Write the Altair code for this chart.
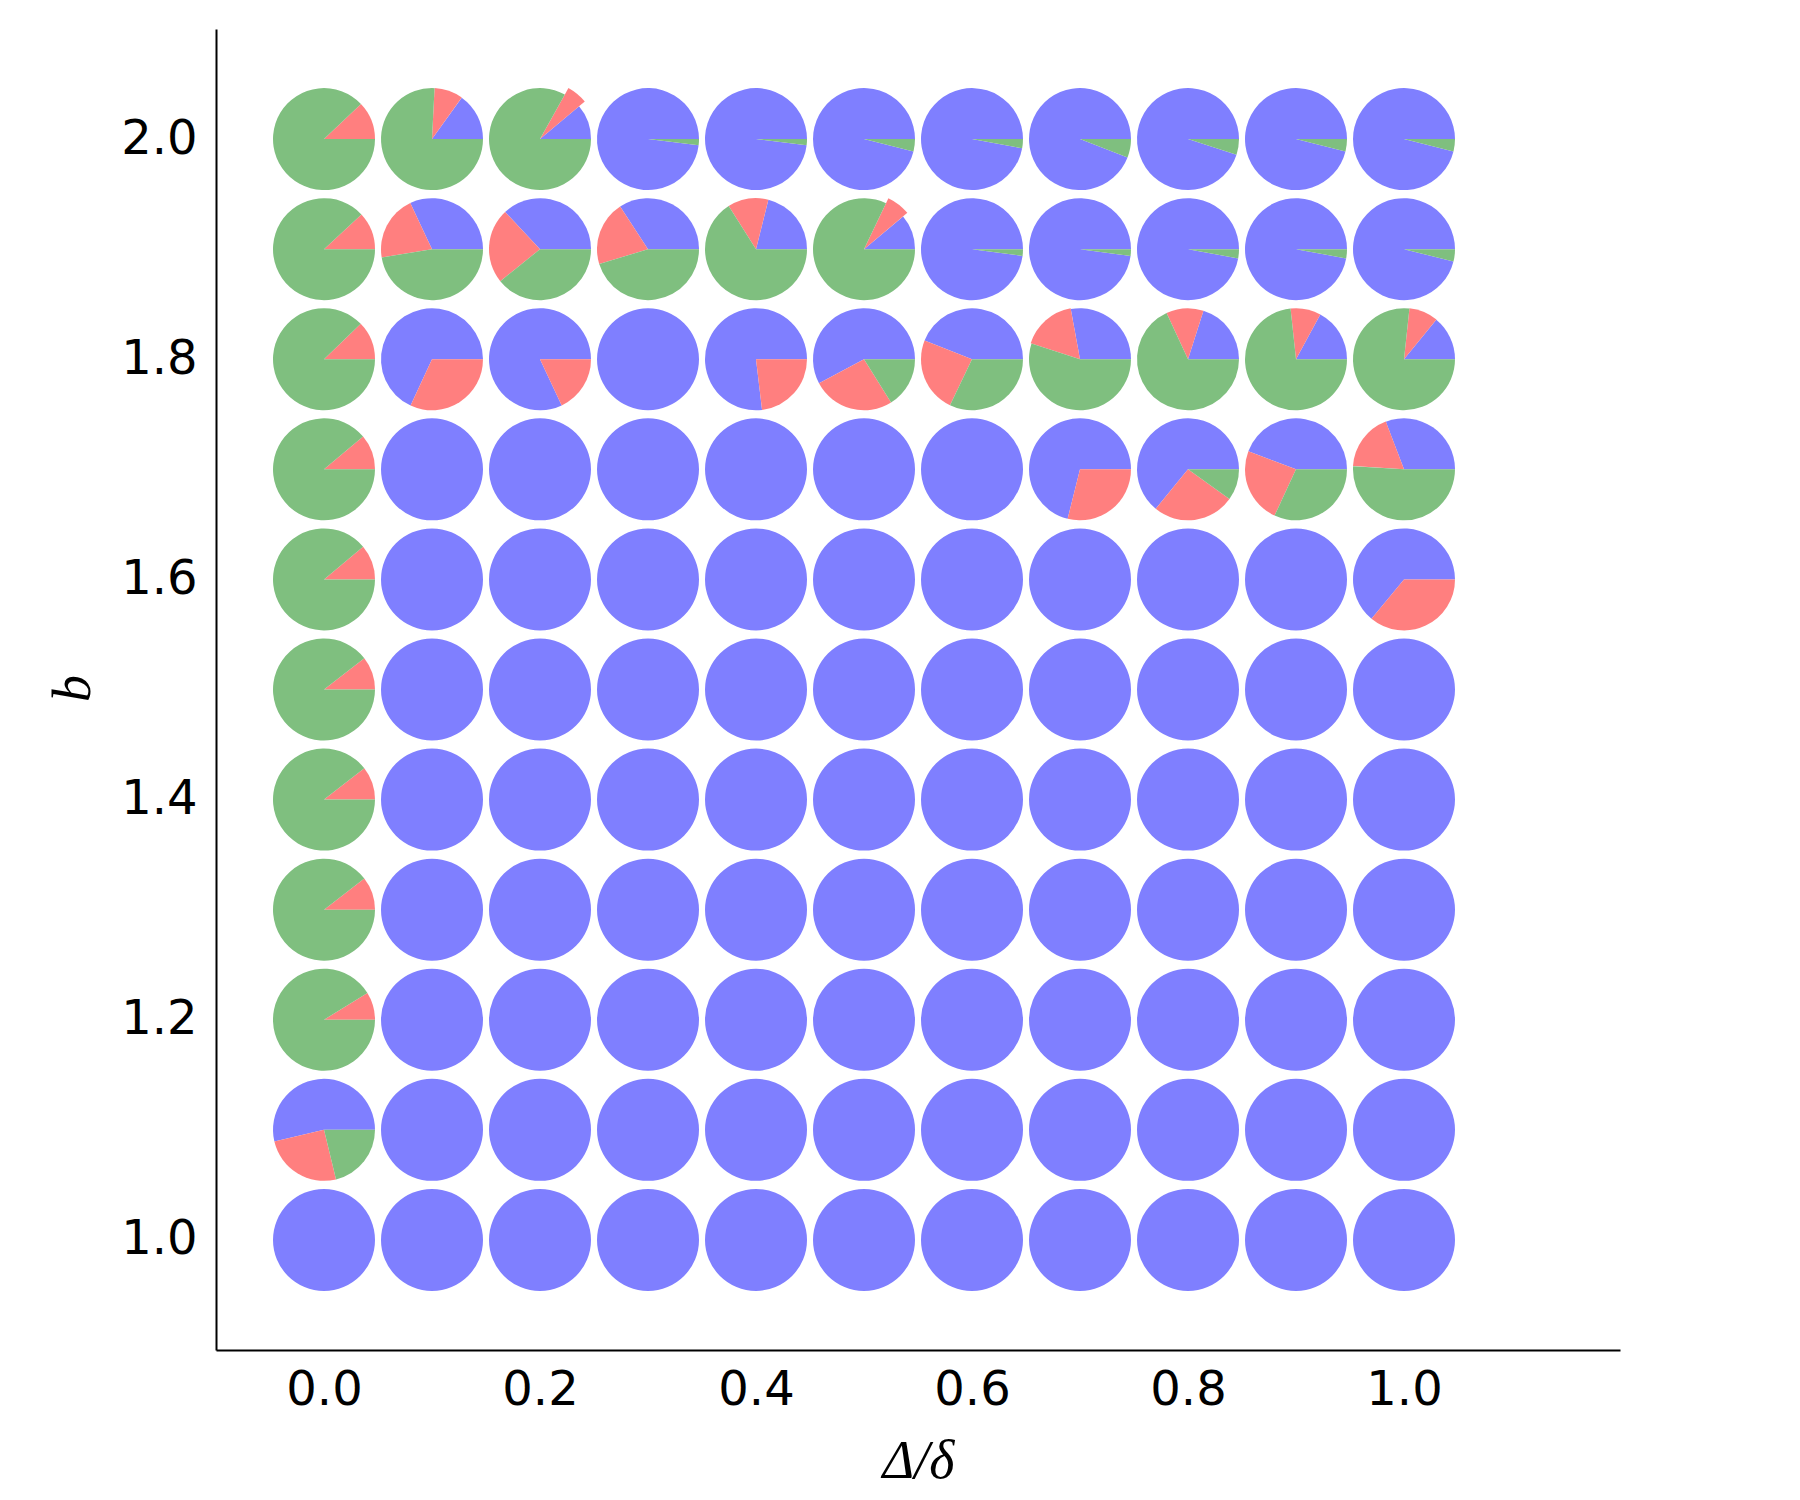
import altair as alt
import pandas as pd

# Grid coordinates
delta_ratio = [0.0, 0.1, 0.2, 0.3, 0.4, 0.5, 0.6, 0.7, 0.8, 0.9, 1.0]
b_values = [2.0, 1.9, 1.8, 1.7, 1.6, 1.5, 1.4, 1.3, 1.2, 1.1, 1.0]

# Fraction of each outcome per grid cell; rows follow b_values, columns follow delta_ratio
blue_frac = [
    [0.000, 0.151, 0.111, 0.981, 0.981, 0.961, 0.971, 0.941, 0.950, 0.961, 0.961],
    [0.000, 0.320, 0.370, 0.342, 0.211, 0.111, 0.979, 0.979, 0.971, 0.971, 0.961],
    [0.000, 0.681, 0.820, 1.000, 0.769, 0.578, 0.440, 0.279, 0.201, 0.171, 0.141],
    [0.000, 1.000, 1.000, 1.000, 1.000, 1.000, 1.000, 0.711, 0.641, 0.442, 0.308],
    [0.000, 1.000, 1.000, 1.000, 1.000, 1.000, 1.000, 1.000, 1.000, 1.000, 0.640],
    [0.000, 1.000, 1.000, 1.000, 1.000, 1.000, 1.000, 1.000, 1.000, 1.000, 1.000],
    [0.000, 1.000, 1.000, 1.000, 1.000, 1.000, 1.000, 1.000, 1.000, 1.000, 1.000],
    [0.000, 1.000, 1.000, 1.000, 1.000, 1.000, 1.000, 1.000, 1.000, 1.000, 1.000],
    [0.000, 1.000, 1.000, 1.000, 1.000, 1.000, 1.000, 1.000, 1.000, 1.000, 1.000],
    [0.537, 1.000, 1.000, 1.000, 1.000, 1.000, 1.000, 1.000, 1.000, 1.000, 1.000],
    [1.000, 1.000, 1.000, 1.000, 1.000, 1.000, 1.000, 1.000, 1.000, 1.000, 1.000],
]
red_frac = [
    [0.121, 0.091, 0.058, 0.000, 0.000, 0.000, 0.000, 0.000, 0.000, 0.000, 0.000],
    [0.119, 0.206, 0.238, 0.205, 0.129, 0.068, 0.000, 0.000, 0.000, 0.000, 0.000],
    [0.122, 0.319, 0.180, 0.000, 0.231, 0.261, 0.239, 0.171, 0.118, 0.096, 0.092],
    [0.111, 0.000, 0.000, 0.000, 0.000, 0.000, 0.000, 0.289, 0.260, 0.239, 0.182],
    [0.111, 0.000, 0.000, 0.000, 0.000, 0.000, 0.000, 0.000, 0.000, 0.000, 0.360],
    [0.105, 0.000, 0.000, 0.000, 0.000, 0.000, 0.000, 0.000, 0.000, 0.000, 0.000],
    [0.105, 0.000, 0.000, 0.000, 0.000, 0.000, 0.000, 0.000, 0.000, 0.000, 0.000],
    [0.105, 0.000, 0.000, 0.000, 0.000, 0.000, 0.000, 0.000, 0.000, 0.000, 0.000],
    [0.088, 0.000, 0.000, 0.000, 0.000, 0.000, 0.000, 0.000, 0.000, 0.000, 0.000],
    [0.251, 0.000, 0.000, 0.000, 0.000, 0.000, 0.000, 0.000, 0.000, 0.000, 0.000],
    [0.000, 0.000, 0.000, 0.000, 0.000, 0.000, 0.000, 0.000, 0.000, 0.000, 0.000],
]
green_frac = [
    [0.879, 0.758, 0.831, 0.019, 0.019, 0.039, 0.029, 0.059, 0.050, 0.039, 0.039],
    [0.881, 0.474, 0.392, 0.453, 0.660, 0.821, 0.021, 0.021, 0.029, 0.029, 0.039],
    [0.878, 0.000, 0.000, 0.000, 0.000, 0.161, 0.321, 0.550, 0.681, 0.733, 0.767],
    [0.889, 0.000, 0.000, 0.000, 0.000, 0.000, 0.000, 0.000, 0.099, 0.319, 0.510],
    [0.889, 0.000, 0.000, 0.000, 0.000, 0.000, 0.000, 0.000, 0.000, 0.000, 0.000],
    [0.895, 0.000, 0.000, 0.000, 0.000, 0.000, 0.000, 0.000, 0.000, 0.000, 0.000],
    [0.895, 0.000, 0.000, 0.000, 0.000, 0.000, 0.000, 0.000, 0.000, 0.000, 0.000],
    [0.895, 0.000, 0.000, 0.000, 0.000, 0.000, 0.000, 0.000, 0.000, 0.000, 0.000],
    [0.912, 0.000, 0.000, 0.000, 0.000, 0.000, 0.000, 0.000, 0.000, 0.000, 0.000],
    [0.212, 0.000, 0.000, 0.000, 0.000, 0.000, 0.000, 0.000, 0.000, 0.000, 0.000],
    [0.000, 0.000, 0.000, 0.000, 0.000, 0.000, 0.000, 0.000, 0.000, 0.000, 0.000],
]

series_names = ["blue", "red", "green"]
series_colors = ["#7f7fff", "#ff7f7f", "#7fbf7f"]

x_ticks = [0.0, 0.2, 0.4, 0.6, 0.8, 1.0]
y_ticks = [1.0, 1.2, 1.4, 1.6, 1.8, 2.0]

# Long table: one row per wedge
records = []
for i, b in enumerate(b_values):
    for j, d in enumerate(delta_ratio):
        for k, grid in enumerate([blue_frac, red_frac, green_frac]):
            records.append({
                "delta": d, "b": b, "series": series_names[k],
                "order": k, "frac": grid[i][j],
            })
df = pd.DataFrame(records)

PIE_R = 51  # pie radius in pixels

pies = alt.Chart(df).transform_window(
    c1="sum(frac)", groupby=["delta", "b"], sort=[alt.SortField("order")]
).transform_calculate(
    c0="datum.c1 - datum.frac"
).transform_filter(
    "datum.frac > 0"
).transform_calculate(
    # wedge markers are scaled so their largest |coordinate| fills the marker box
    a0="2*PI*datum.c0",
    a1="2*PI*datum.c1",
).transform_calculate(
    m="floor(4*datum.c1 - 1e-9) > floor(4*datum.c0) ? 1 : "
      "max(abs(cos(datum.a0)), abs(sin(datum.a0)), abs(cos(datum.a1)), abs(sin(datum.a1)))"
).transform_calculate(
    r=f"{PIE_R} / datum.m"
).mark_arc(stroke=None).encode(
    x=alt.X("delta:Q", scale=alt.Scale(domain=[-0.1, 1.2], nice=False, zero=False),
            axis=alt.Axis(values=x_ticks, format=".1f", title="Δ/δ",
                          titleX=702, titleY=127, titleAlign="center",
                          titleBaseline="alphabetic", labelPadding=16)),
    y=alt.Y("b:Q", scale=alt.Scale(domain=[0.9, 2.1], nice=False, zero=False),
            axis=alt.Axis(values=y_ticks, format=".1f", title="b",
                          titleX=-127, titleY=659, titleAngle=270, titleAlign="center",
                          titleBaseline="alphabetic", labelPadding=19)),
    theta=alt.Theta("c0:Q", stack=False,
                    scale=alt.Scale(domain=[0, 1], range=[1.5707963, -4.7123890])),
    theta2="c1:Q",
    radius=alt.Radius("r:Q", scale=None),
    color=alt.Color("series:N", scale=alt.Scale(domain=series_names, range=series_colors),
                    legend=None),
)

chart = pies.properties(
    width=1404, height=1321,
    autosize=alt.AutoSizeParams(type="none"),
    padding={"left": 216, "top": 29, "right": 180, "bottom": 150},
).configure_view(
    stroke=None
).configure_axis(
    grid=False, ticks=False, tickSize=0,
    domainColor="black", domainWidth=2,
    labelFont="DejaVu Sans", labelFontSize=48, labelColor="black",
    titleFont="Liberation Serif", titleFontSize=54, titleFontStyle="italic",
    titleFontWeight="normal", titleColor="black",
)

chart.save("out.html", embed_options={"renderer": "svg", "actions": False})
